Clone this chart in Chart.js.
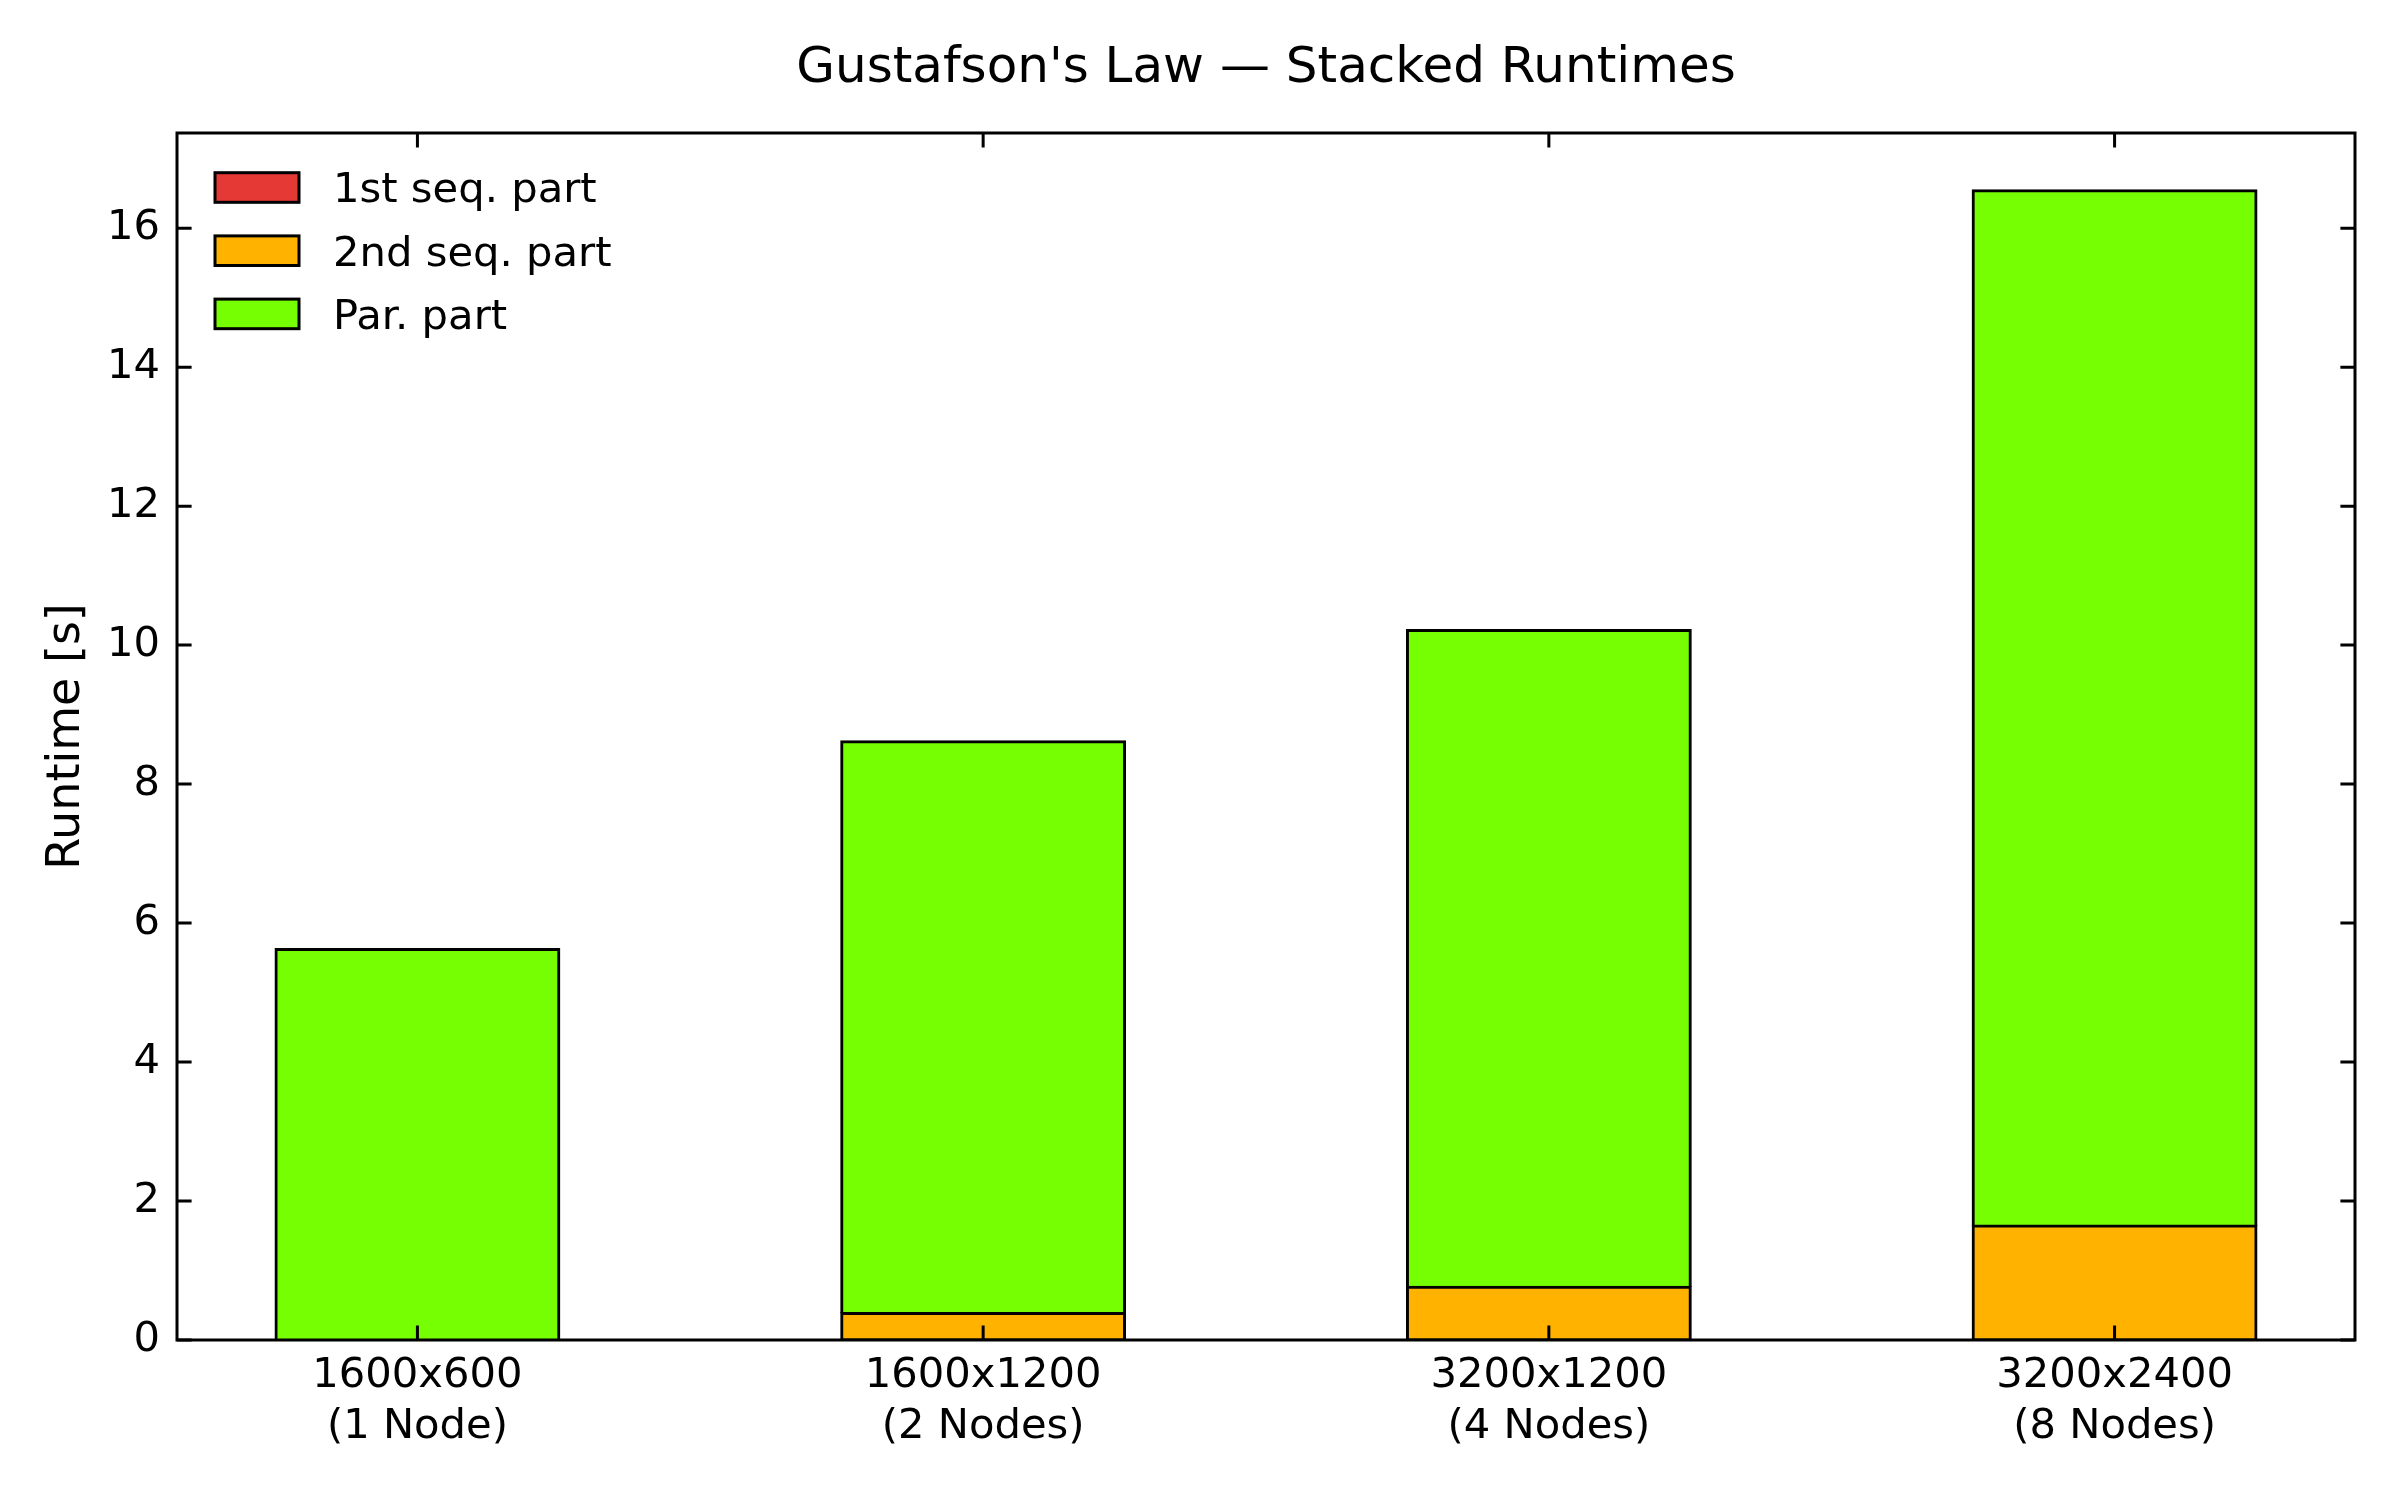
<!DOCTYPE html>
<html><head><meta charset="utf-8">
<script src="https://cdn.jsdelivr.net/npm/chart.js@4/dist/chart.umd.min.js"></script>
<style>html,body{margin:0;padding:0;background:#fff}#wrap{width:2400px;height:1500px}</style>
</head><body><div id="wrap"><canvas id="c" width="2400" height="1500"></canvas></div>
<script>
// ---- data ----
const categories = [["1600x600","(1 Node)"],["1600x1200","(2 Nodes)"],["3200x1200","(4 Nodes)"],["3200x2400","(8 Nodes)"]];
const xPositions = [0, 1, 2, 3];
const firstSeq = [0, 0, 0, 0];
const secondSeq = [0, 0.38, 0.76, 1.64];
const parPart = [5.62, 8.23, 9.45, 14.90];
const yTicks = [0, 2, 4, 6, 8, 10, 12, 14, 16];
const seriesNames = ["1st seq. part", "2nd seq. part", "Par. part"];
const titleText = "Gustafson's Law \u2014 Stacked Runtimes";
const yLabel = "Runtime [s]";

const FONT = "'DejaVu Sans', sans-serif";
const LW = 3;

const toXY = arr => arr.map((v, i) => ({x: xPositions[i], y: v}));

const framePlugin = {
  id: 'frame',
  afterDatasetsDraw(chart) {
    const {ctx, chartArea: a, scales} = chart;
    const tl = 14.6;
    ctx.save();
    ctx.strokeStyle = '#000';
    ctx.lineWidth = LW;
    ctx.lineCap = 'butt';
    ctx.beginPath();
    xPositions.forEach(v => {
      const px = scales.x.getPixelForValue(v);
      ctx.moveTo(px, a.bottom); ctx.lineTo(px, a.bottom - tl);
      ctx.moveTo(px, a.top); ctx.lineTo(px, a.top + tl);
    });
    yTicks.forEach(v => {
      const py = scales.y.getPixelForValue(v);
      ctx.moveTo(a.left, py); ctx.lineTo(a.left + tl, py);
      ctx.moveTo(a.right, py); ctx.lineTo(a.right - tl, py);
    });
    ctx.stroke();
    ctx.strokeRect(a.left, a.top, a.right - a.left, a.bottom - a.top);

    // legend
    const ds = chart.data.datasets;
    const bx = a.left + 38, bw = 84, bh = 29.6;
    ds.forEach((d, i) => {
      const cy = a.top + 54.5 + i * 63.2;
      ctx.fillStyle = d.backgroundColor;
      ctx.fillRect(bx, cy - bh / 2, bw, bh);
      ctx.lineWidth = LW;
      ctx.strokeStyle = '#000';
      ctx.strokeRect(bx, cy - bh / 2, bw, bh);
      ctx.fillStyle = '#000';
      ctx.font = "41.7px " + FONT;
      ctx.textBaseline = 'middle';
      ctx.textAlign = 'left';
      ctx.fillText(d.label, a.left + 156, cy + 4);
    });
    ctx.restore();
  }
};

new Chart(document.getElementById('c'), {
  type: 'bar',
  data: {
    datasets: [
      {label: seriesNames[0], data: toXY(firstSeq), backgroundColor: '#E53935', borderColor: '#000', borderWidth: LW, inflateAmount: 1.5, borderSkipped: false},
      {label: seriesNames[1], data: toXY(secondSeq), backgroundColor: '#FFB300', borderColor: '#000', borderWidth: LW, inflateAmount: 1.5, borderSkipped: false},
      {label: seriesNames[2], data: toXY(parPart), backgroundColor: '#76FF03', borderColor: '#000', borderWidth: LW, inflateAmount: 1.5, borderSkipped: 'bottom'}
    ]
  },
  options: {
    responsive: false,
    animation: false,
    devicePixelRatio: 1,
    layout: {padding: {left: 0, right: 45, top: 0, bottom: 0}},
    datasets: {bar: {categoryPercentage: 1, barPercentage: 0.5}},
    plugins: {
      legend: {display: false},
      tooltip: {enabled: false},
      title: {
        display: true, text: titleText, color: '#000', fullSize: false,
        font: {family: FONT, size: 50, weight: 'normal'},
        padding: {top: 39, bottom: 34}
      }
    },
    scales: {
      x: {
        type: 'linear', stacked: true, offset: false,
        min: -0.425, max: 3.425,
        grid: {display: false, drawTicks: false},
        border: {display: false},
        afterBuildTicks: s => { s.ticks = xPositions.map(v => ({value: v})); },
        afterFit: s => { s.height = 160; },
        ticks: {
          autoSkip: false, maxRotation: 0, minRotation: 0, padding: 11,
          color: '#000', font: {family: FONT, size: 41.7, lineHeight: 1.21},
          callback: v => categories[v]
        }
      },
      y: {
        stacked: true, min: 0, max: 17.37,
        grid: {display: false, drawTicks: false},
        border: {display: false},
        afterBuildTicks: s => { s.ticks = yTicks.map(v => ({value: v})); },
        afterFit: s => { s.width = 177; },
        ticks: {
          padding: 17, color: '#000', font: {family: FONT, size: 41.7},
          callback: v => String(v)
        },
        title: {
          display: true, text: yLabel, color: '#000',
          font: {family: FONT, size: 46, lineHeight: 1.2},
          padding: {top: 39, bottom: 0}
        }
      }
    }
  },
  plugins: [framePlugin]
});
</script>
</body></html>
